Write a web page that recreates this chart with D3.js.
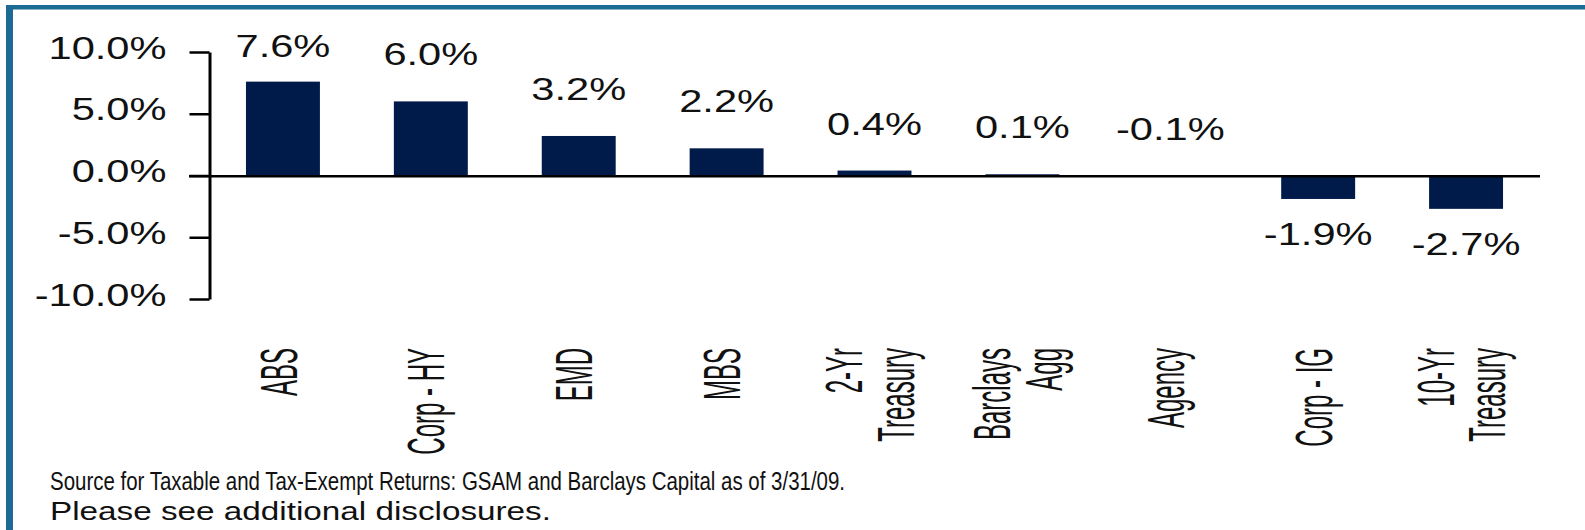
<!DOCTYPE html>
<html>
<head>
<meta charset="utf-8">
<script src="https://cdn.jsdelivr.net/npm/d3@7"></script>
<style>
  html, body { margin: 0; padding: 0; background: #fff; }
  svg { display: block; }
  text { font-family: "Liberation Sans", Arial, Helvetica, sans-serif; fill: #111; }
</style>
</head>
<body>
<svg id="chart" width="1585" height="530"></svg>
<script>
// ---- data ----
const categories = ["ABS", "Corp - HY", "EMD", "MBS", "2-Yr Treasury", "Barclays Agg", "Agency", "Corp - IG", "10-Yr Treasury"];
const categoryLines = [["ABS"], ["Corp - HY"], ["EMD"], ["MBS"], ["2-Yr", "Treasury"], ["Barclays", "Agg"], ["Agency"], ["Corp - IG"], ["10-Yr", "Treasury"]];
const values = [7.6, 6.0, 3.2, 2.2, 0.4, 0.1, -0.1, -1.9, -2.7];
const yTicks = [10, 5, 0, -5, -10];
const sourceLines = [
  "Source for Taxable and Tax-Exempt Returns: GSAM and Barclays Capital as of 3/31/09.",
  "Please see additional disclosures."
];

// ---- layout ----
const svg = d3.select("#chart");
const W = 1585, H = 530;
const frameColor = "#1b6b94";
const barColor = "#001a4a";

// frame (top and left border)
svg.append("rect").attr("x", 6).attr("y", 5).attr("width", W - 6).attr("height", 4.5).attr("fill", frameColor);
svg.append("rect").attr("x", 6).attr("y", 5).attr("width", 7).attr("height", H - 5).attr("fill", frameColor);

const x = d3.scaleBand().domain(categories).range([209, 1540]).paddingInner(0.5).paddingOuter(0.25);
const y = d3.scaleLinear().domain([-10, 10]).range([299, 52]);

// y axis
const yAxis = d3.axisLeft(y).tickValues(yTicks).tickSize(20).tickSizeOuter(0).tickFormat("");
const gy = svg.append("g").attr("transform", "translate(209.5,0)").call(yAxis);
gy.select(".domain").attr("stroke", "#000").attr("stroke-width", 3);
gy.selectAll(".tick line").attr("stroke", "#000").attr("stroke-width", 2.5);
gy.selectAll(".tick").append("g")
  .attr("transform", "translate(-43,6) scale(1.3,1)")
  .append("text")
  .attr("text-anchor", "end")
  .attr("font-size", 32)
  .text(d => d.toFixed(1) + "%");

// bars
svg.append("g").selectAll("rect").data(values).join("rect")
  .attr("x", (d, i) => x(categories[i]))
  .attr("width", x.bandwidth())
  .attr("y", d => y(Math.max(d, 0)))
  .attr("height", d => Math.abs(y(d) - y(0)))
  .attr("fill", barColor);

// zero line
svg.append("line")
  .attr("x1", 189).attr("x2", 1540)
  .attr("y1", y(0) + 0.8).attr("y2", y(0) + 0.8)
  .attr("stroke", "#000").attr("stroke-width", 2.6);

// value labels
svg.append("g").selectAll("g").data(values).join("g")
  .attr("transform", (d, i) => {
    const cx = x(categories[i]) + x.bandwidth() / 2;
    const ly = d > -0.5 ? Math.max(y(Math.max(d, 0)) - 36, 57) : y(d) + 46;
    return `translate(${cx},${ly}) scale(1.3,1)`;
  })
  .append("text")
  .attr("text-anchor", "middle")
  .attr("font-size", 32)
  .text(d => d.toFixed(1) + "%");

// category labels (rotated)
const catG = svg.append("g").selectAll("g").data(categoryLines).join("g")
  .attr("transform", (d, i) => `translate(${x(categories[i]) + x.bandwidth() / 2 - 5},348) rotate(-90) scale(0.8,1.72)`);
catG.each(function(lines) {
  const g = d3.select(this);
  const fs = 30;
  const spacing = 30;
  lines.forEach((t, j) => {
    g.append("text")
      .attr("text-anchor", "end")
      .attr("font-size", fs)
      .attr("x", 0)
      .attr("y", (j - (lines.length - 1) / 2) * spacing + 0.36 * fs)
      .text(t);
  });
});

// source note
svg.append("g").selectAll("text").data(sourceLines).join("text")
  .attr("x", 50)
  .attr("y", (d, i) => 490 + i * 30)
  .attr("font-size", 25)
  .attr("textLength", (d, i) => i === 0 ? 795 : 501)
  .attr("lengthAdjust", "spacingAndGlyphs")
  .text(d => d);
</script>
</body>
</html>
